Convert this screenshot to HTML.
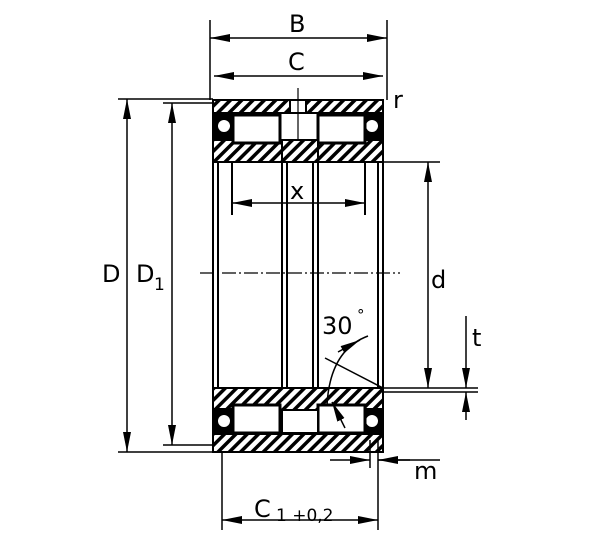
<!DOCTYPE html>
<html><head><meta charset="utf-8"><style>
html,body{margin:0;padding:0;background:#fff}
svg{display:block}
text{font-family:"DejaVu Sans","Liberation Sans",sans-serif;fill:#000}
</style></head><body>
<svg width="600" height="542" viewBox="0 0 600 542" xmlns="http://www.w3.org/2000/svg">
<defs>
<pattern id="h" width="8" height="8" patternUnits="userSpaceOnUse" patternTransform="rotate(45)">
<rect width="8" height="8" fill="#fff"/><rect width="3.5" height="8" fill="#000"/>
</pattern>
<marker id="b" viewBox="0 0 20 8" refX="20" refY="4" markerWidth="20" markerHeight="8" orient="auto-start-reverse" markerUnits="userSpaceOnUse">
<path d="M0,0 L20,4 L0,8 z" fill="#000"/></marker>
</defs>
<g stroke="#000" fill="none" stroke-width="2">
<line x1="213" y1="100" x2="213" y2="452"/>
<line x1="218" y1="162" x2="218" y2="388"/>
<line x1="383" y1="100" x2="383" y2="452"/>
<line x1="378" y1="162" x2="378" y2="388"/>
<line x1="282" y1="162" x2="282" y2="388"/>
<line x1="287" y1="162" x2="287" y2="388"/>
<line x1="313" y1="162" x2="313" y2="388"/>
<line x1="318" y1="162" x2="318" y2="388"/>
<line x1="232" y1="162" x2="232" y2="215"/>
<line x1="365" y1="162" x2="365" y2="215"/>
</g>
<rect x="213" y="100" width="170" height="13" fill="url(#h)" stroke="#000" stroke-width="2"/>
<rect x="213" y="140" width="170" height="22" fill="url(#h)" stroke="#000" stroke-width="2"/>
<rect x="213" y="113" width="20" height="27" fill="#000"/>
<rect x="363" y="113" width="20" height="27" fill="#000"/>
<circle cx="224" cy="126" r="6" fill="#fff"/><circle cx="372" cy="126" r="6" fill="#fff"/>
<rect x="233" y="115" width="47" height="28" fill="#fff" stroke="#000" stroke-width="3"/>
<rect x="318" y="115" width="47" height="28" fill="#fff" stroke="#000" stroke-width="3"/>
<rect x="282" y="140" width="36" height="22" fill="url(#h)" stroke="#000" stroke-width="2"/>
<rect x="290" y="100" width="16" height="13" fill="#fff" stroke="#000" stroke-width="2"/>
<line x1="298" y1="88" x2="298" y2="140" stroke="#000" stroke-width="1.2"/>
<rect x="213" y="388" width="170" height="22" fill="url(#h)" stroke="#000" stroke-width="2"/>
<rect x="213" y="434" width="170" height="18" fill="url(#h)" stroke="#000" stroke-width="2"/>
<rect x="213" y="408" width="20" height="27" fill="#000"/>
<rect x="363" y="408" width="20" height="27" fill="#000"/>
<circle cx="224" cy="421" r="6" fill="#fff"/><circle cx="372" cy="421" r="6" fill="#fff"/>
<rect x="233" y="405" width="47" height="28" fill="#fff" stroke="#000" stroke-width="3"/>
<rect x="318" y="405" width="47" height="28" fill="#fff" stroke="#000" stroke-width="3"/>
<rect x="282" y="410" width="36" height="23" fill="#fff" stroke="#000" stroke-width="2"/>
<g stroke="#000" fill="none" stroke-width="1.5">
<line x1="210" y1="20" x2="210" y2="100"/><line x1="387" y1="20" x2="387" y2="100"/>
<line x1="210" y1="38" x2="387" y2="38" marker-start="url(#b)" marker-end="url(#b)"/>
<line x1="214" y1="76" x2="383" y2="76" marker-start="url(#b)" marker-end="url(#b)"/>
<line x1="118" y1="99" x2="213" y2="99"/><line x1="118" y1="452" x2="213" y2="452"/>
<line x1="163" y1="103" x2="213" y2="103"/><line x1="163" y1="445" x2="213" y2="445"/>
<line x1="127" y1="99" x2="127" y2="452" marker-start="url(#b)" marker-end="url(#b)"/>
<line x1="172" y1="103" x2="172" y2="445" marker-start="url(#b)" marker-end="url(#b)"/>
<line x1="383" y1="162" x2="440" y2="162"/>
<line x1="383" y1="388" x2="478" y2="388"/>
<line x1="383" y1="392" x2="478" y2="392"/>
<line x1="428" y1="162" x2="428" y2="388" marker-start="url(#b)" marker-end="url(#b)"/>
<line x1="466" y1="316" x2="466" y2="388" marker-end="url(#b)"/>
<line x1="466" y1="420" x2="466" y2="392" marker-end="url(#b)"/>
<line x1="232" y1="203" x2="365" y2="203" marker-start="url(#b)" marker-end="url(#b)"/>
<line x1="200" y1="273" x2="400" y2="273" stroke-dasharray="14,3,2,3" stroke-width="1.2"/>
<line x1="325" y1="358" x2="383" y2="388"/>
<path d="M368,336 Q330,350 327,405" />
<line x1="338" y1="352" x2="360" y2="340" marker-end="url(#b)"/>
<line x1="345" y1="428" x2="332" y2="402" marker-end="url(#b)"/>
<line x1="222" y1="452" x2="222" y2="530"/>
<line x1="378" y1="440" x2="378" y2="530"/>
<line x1="370" y1="440" x2="370" y2="468"/>
<line x1="330" y1="460" x2="370" y2="460" marker-end="url(#b)"/>
<line x1="410" y1="460" x2="378" y2="460" marker-end="url(#b)"/>
<line x1="378" y1="460" x2="440" y2="460"/>
<line x1="222" y1="520" x2="378" y2="520" marker-start="url(#b)" marker-end="url(#b)"/>
</g>
<g font-size="24">
<text x="289" y="32">B</text>
<text x="288" y="70">C</text>
<text x="393" y="108">r</text>
<text x="102" y="282">D</text>
<text x="136" y="282">D</text><text x="154" y="290" font-size="17">1</text>
<text x="431" y="288">d</text>
<text x="472" y="346">t</text>
<text x="290" y="199">x</text>
<text x="322" y="334">30</text><text x="357" y="320" font-size="15">°</text>
<text x="414" y="479">m</text>
<text x="254" y="517">C</text>
<text x="276" y="521" font-size="17">1 +0,2</text>
</g>
</svg>
</body></html>
